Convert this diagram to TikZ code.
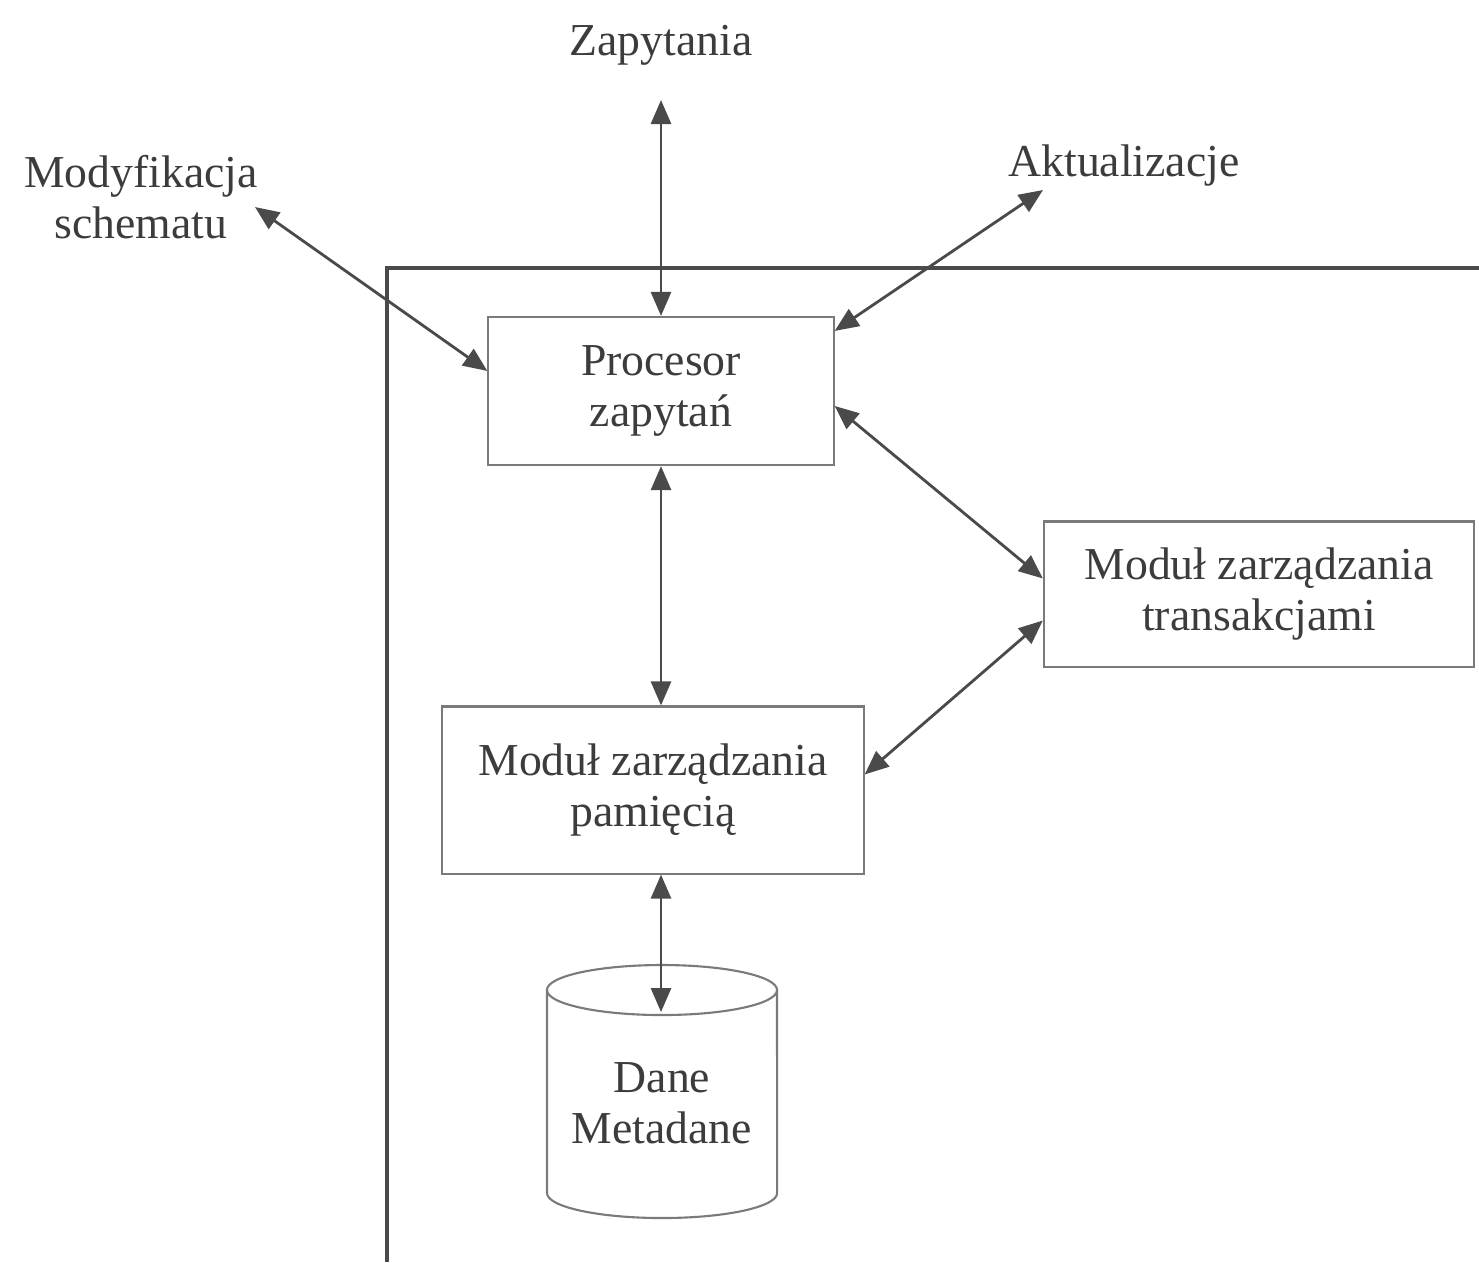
\documentclass[tikz,border=0pt]{standalone}
\usepackage{fontspec}
\setmainfont{Liberation Serif}
\usepackage{tikz}
\usetikzlibrary{arrows.meta}

\definecolor{linia}{HTML}{4A4A4A}
\definecolor{ramka}{HTML}{7A7A7A}
\definecolor{tekst}{HTML}{3C3C3C}

\begin{document}
\begin{tikzpicture}[x={(0.01cm,0)}, y={(0,-0.01cm)},
    every node/.style={text=tekst, font=\fontsize{13}{14.6}\selectfont, align=center},
    modul/.style={draw=ramka, line width=0.6pt, inner sep=0pt},
    strzalka/.style={draw=linia, line width=0.8pt,
        {Triangle[length=2.4mm,width=2mm]}-{Triangle[length=2.4mm,width=2mm]}}]

    \useasboundingbox (0,0) rectangle (1479,1262);

    % system boundary, open to the right and bottom
    \draw[line width=1.2pt, draw=linia] (387,1262) -- (387,268) -- (1479,268);

    % external labels
    \node (zap) at (661,45) {Zapytania};
    \node (mod) at (141,197) {Modyfikacja\\schematu};
    \node (akt) at (1124,165) {Aktualizacje};

    % modules
    \node[modul, minimum width=3.45cm, minimum height=1.48cm] (proc) at (661,391) {Procesor\\zapyta\'n};
    \node[modul, minimum width=4.30cm, minimum height=1.45cm] (trans) at (1259,594) {Modu\l{} zarz\k{a}dzania\\transakcjami};
    \node[modul, minimum width=4.21cm, minimum height=1.67cm] (pam) at (653,790) {Modu\l{} zarz\k{a}dzania\\pami\k{e}ci\k{a}};

    % data store: cylinder drawn by hand
    \draw[draw=ramka, line width=0.6pt] (662,990) ellipse [x radius=1.15cm, y radius=0.25cm];
    \draw[draw=ramka, line width=0.6pt] (547,990) -- (547,1193)
        arc [start angle=180, end angle=360, x radius=1.15cm, y radius=0.25cm] -- (777,990);
    \node (dane) at (662,1103) {Dane\\Metadane};

    % free ends of the arrows
    \coordinate (zapK) at (661,100);
    \coordinate (modK) at (255,207);
    \coordinate (aktK) at (1043,190);
    \coordinate (daneK) at (661,1012);

    \draw[strzalka] (zapK) to (proc.north);
    \draw[strzalka] (modK) to ([yshift=-0.55cm]proc.north west);
    \draw[strzalka] (aktK) to ([yshift=-0.15cm]proc.north east);
    \draw[strzalka] ([yshift=-0.9cm]proc.north east) to ([yshift=-0.58cm]trans.north west);
    \draw[strzalka] ([yshift=-1.0cm]trans.north west) to ([yshift=-0.69cm]pam.north east);
    \draw[strzalka] (proc.south) to (proc.south |- pam.north);
    \draw[strzalka] (proc.south |- pam.south) to (daneK);
\end{tikzpicture}
\end{document}
